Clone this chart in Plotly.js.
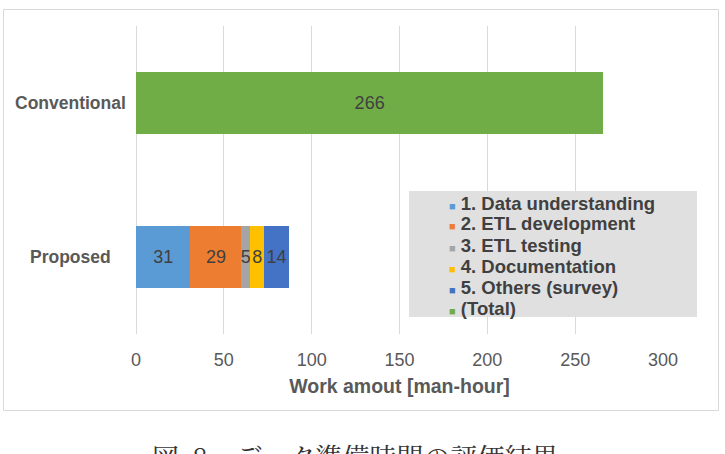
<!DOCTYPE html>
<html>
<head>
<meta charset="utf-8">
<script src="https://cdn.plot.ly/plotly-3.0.1.min.js"></script>
<style>
  html, body { margin: 0; padding: 0; background: #ffffff; overflow: hidden; }
  #chart { width: 725px; height: 454px; }
</style>
</head>
<body>
<div id="chart"></div>
<script>
// Work amount per activity (man-hours)
var categories = ['Proposed', 'Conventional'];
var seriesNames = [
  '1. Data understanding',
  '2. ETL development',
  '3. ETL testing',
  '4. Documentation',
  '5. Others (survey)',
  '(Total)'
];
var proposedValues = [31, 29, 5, 8, 14];
var conventionalTotal = [266];
var seriesColors = ['#5B9BD5', '#ED7D31', '#A5A5A5', '#FFC000', '#4472C4', '#70AD47'];
var xTicks = [0, 50, 100, 150, 200, 250, 300];
var xTitle = 'Work amout [man-hour]';
var caption = '図\u20028\u3000データ準備時間の評価結果';

var FONT = '"Liberation Sans", Arial, Helvetica, sans-serif';

var labelFont = { family: FONT, size: 18, color: '#404040' };

var traces = [];
proposedValues.forEach(function (v, i) {
  traces.push({
    type: 'bar',
    orientation: 'h',
    name: seriesNames[i],
    y: [categories[0]],
    x: [v],
    marker: { color: seriesColors[i] },
    text: [String(v)],
    textposition: 'inside',
    insidetextanchor: 'middle',
    constraintext: 'none',
    textangle: 0,
    textfont: labelFont,
    insidetextfont: labelFont,
    showlegend: false,
    hoverinfo: 'x+name'
  });
});
traces.push({
  type: 'bar',
  orientation: 'h',
  name: seriesNames[5],
  y: [categories[1]],
  x: conventionalTotal,
  marker: { color: seriesColors[5] },
  text: conventionalTotal.map(String),
  textposition: 'inside',
  insidetextanchor: 'middle',
  constraintext: 'none',
  textangle: 0,
  textfont: labelFont,
  insidetextfont: labelFont,
  showlegend: false,
  hoverinfo: 'x+name'
});

// Plot area geometry in pixels (used to express the frame/legend in paper units)
var W = 725, H = 454;
var M = { l: 136, r: 62, t: 26, b: 120 };
var pw = W - M.l - M.r, ph = H - M.t - M.b;
function px(x) { return (x - M.l) / pw; }
function py(y) { return (H - M.b - y) / ph; }

var annotations = [];

// category labels, centred in the left gutter
categories.forEach(function (c) {
  annotations.push({
    xref: 'paper', yref: 'y', x: px(70.5), y: c,
    xanchor: 'center', yanchor: 'middle', showarrow: false,
    text: '<b>' + c + '</b>',
    font: { family: FONT, size: 17.5, color: '#595959' }
  });
});

// legend entries: coloured square + bold label
seriesNames.forEach(function (n, i) {
  annotations.push({
    xref: 'paper', yref: 'paper', x: px(447), y: py(203 + i * 21),
    xanchor: 'left', yanchor: 'middle', showarrow: false, align: 'left',
    text: '<span style="color:' + seriesColors[i] + ';font-size:11px">\u25A0</span> <b>' + n + '</b>',
    font: { family: FONT, size: 18.5, color: '#404040' }
  });
});

// figure caption
annotations.push({
  xref: 'paper', yref: 'paper', x: px(355), y: py(456),
  xanchor: 'center', yanchor: 'middle', showarrow: false,
  text: caption,
  font: { family: '"Noto Serif CJK JP", "Noto Sans CJK JP", serif', size: 27, color: '#333333' }
});

var layout = {
  width: W, height: H,
  margin: M,
  paper_bgcolor: '#ffffff',
  plot_bgcolor: '#ffffff',
  barmode: 'stack',
  bargap: 0.6,
  showlegend: false,
  font: { family: FONT, color: '#595959' },
  xaxis: {
    range: [0, 300],
    tickvals: xTicks,
    ticktext: xTicks.map(String),
    showgrid: true,
    gridcolor: '#d9d9d9',
    gridwidth: 1,
    zeroline: true,
    zerolinecolor: '#d9d9d9',
    zerolinewidth: 1,
    showline: false,
    ticks: '',
    ticklabelstandoff: 13,
    tickfont: { family: FONT, size: 18, color: '#595959' },
    title: {
      text: '<b>' + xTitle + '</b>',
      font: { family: FONT, size: 19.5, color: '#595959' },
      standoff: 10
    },
    fixedrange: true
  },
  yaxis: {
    type: 'category',
    categoryorder: 'array',
    categoryarray: categories,
    showticklabels: false,
    showgrid: false,
    zeroline: false,
    showline: false,
    ticks: '',
    fixedrange: true
  },
  shapes: [
    // outer chart frame
    {
      type: 'rect', xref: 'paper', yref: 'paper',
      x0: px(3.5), x1: px(718.5), y0: py(410.5), y1: py(9.5),
      line: { color: '#d9d9d9', width: 1 }, fillcolor: 'rgba(0,0,0,0)', layer: 'below'
    },
    // legend panel
    {
      type: 'rect', xref: 'paper', yref: 'paper',
      x0: px(409), x1: px(697), y0: py(317), y1: py(191),
      line: { width: 0 }, fillcolor: '#e0e0e0', layer: 'above'
    }
  ],
  annotations: annotations
};

Plotly.newPlot('chart', traces, layout, { displayModeBar: false, staticPlot: true });
</script>
</body>
</html>
